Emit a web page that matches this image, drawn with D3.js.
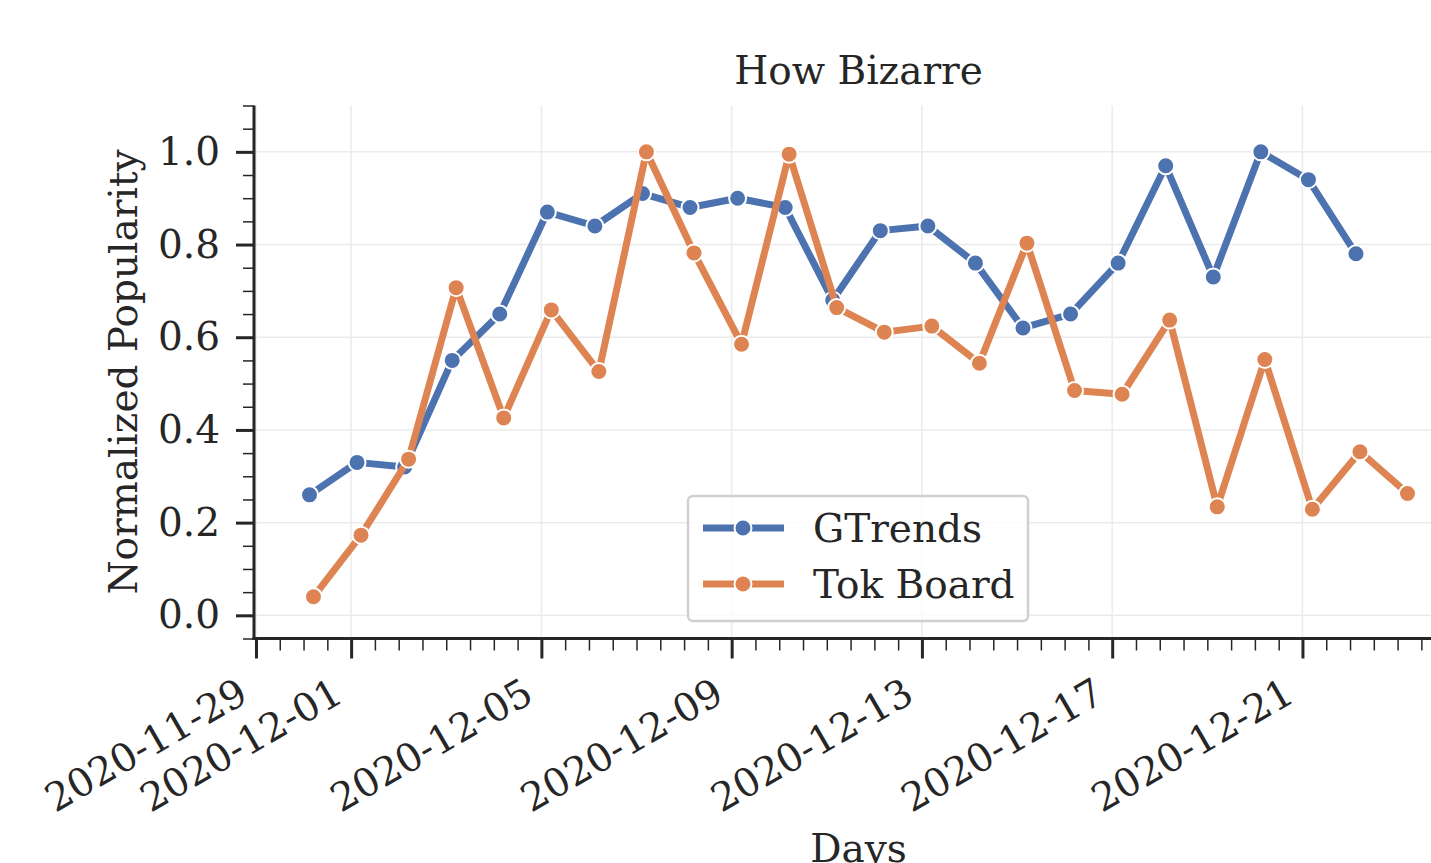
<!DOCTYPE html>
<html>
<head>
<meta charset="utf-8">
<script src="https://cdn.jsdelivr.net/npm/d3@7"></script>
<style>
    body { margin: 0; background: #fff; }
    svg { display: block; font-family: "DejaVu Serif", serif; }
</style>
</head>
<body>
<div id="graphContainer"></div>
<script>
"use strict";
(function () {
    // data
    const gtDates = ["2020-11-30", "2020-12-01", "2020-12-02", "2020-12-03", "2020-12-04", "2020-12-05",
        "2020-12-06", "2020-12-07", "2020-12-08", "2020-12-09", "2020-12-10", "2020-12-11", "2020-12-12",
        "2020-12-13", "2020-12-14", "2020-12-15", "2020-12-16", "2020-12-17", "2020-12-18", "2020-12-19",
        "2020-12-20", "2020-12-21", "2020-12-22"].map(d => d + "T03:00Z")
    const gtValues = [0.26, 0.33, 0.32, 0.55, 0.65, 0.87, 0.84, 0.91, 0.88, 0.90, 0.88, 0.68, 0.83,
        0.84, 0.76, 0.62, 0.65, 0.76, 0.97, 0.73, 1.00, 0.94, 0.78]

    const tokDates = ["2020-11-30", "2020-12-01", "2020-12-02", "2020-12-03", "2020-12-04", "2020-12-05",
        "2020-12-06", "2020-12-07", "2020-12-08", "2020-12-09", "2020-12-10", "2020-12-11", "2020-12-12",
        "2020-12-13", "2020-12-14", "2020-12-15", "2020-12-16", "2020-12-17", "2020-12-18", "2020-12-19",
        "2020-12-20", "2020-12-21", "2020-12-22", "2020-12-23"].map(d => d + "T05:00Z")
    const tokValues = [0.04, 0.173, 0.337, 0.707, 0.426, 0.659, 0.526, 1.0, 0.782, 0.585, 0.995, 0.664,
        0.611, 0.624, 0.544, 0.803, 0.485, 0.477, 0.637, 0.234, 0.552, 0.229, 0.353, 0.263]

    const seriesNames = ["GTrends", "Tok Board"]
    const xTickLabels = ["2020-11-29", "2020-12-01", "2020-12-05", "2020-12-09", "2020-12-13", "2020-12-17", "2020-12-21"]
    const yTickValues = [0.0, 0.2, 0.4, 0.6, 0.8, 1.0]

    const colors = { "GTrends": "#4c72b0", "Tok Board": "#dd8452" }

    const measurements = {
        width: 1431,
        height: 863,
        left: 254,
        right: 1463,
        top: 105.5,
        bottom: 638.5
    }
    const fontSize = 39

    const svg = d3.select('#graphContainer').append("svg")
        .attr('width', measurements.width)
        .attr('height', measurements.height)

    const parse = d3.isoParse
    const series = [
        { name: seriesNames[0], points: gtDates.map((d, i) => ({ date: parse(d), value: gtValues[i] })) },
        { name: seriesNames[1], points: tokDates.map((d, i) => ({ date: parse(d), value: tokValues[i] })) }
    ]

    const scaleX = d3.scaleUtc()
        .domain([parse("2020-11-28T23:00Z"), parse("2020-12-24T09:00Z")])
        .range([measurements.left, measurements.right])
    const scaleY = d3.scaleLinear()
        .domain([-0.05, 1.1])
        .range([measurements.bottom, measurements.top])

    const majorX = xTickLabels.map(d => parse(d + "T00:00Z"))
    const minorX = d3.utcHour.every(12).range(scaleX.domain()[0], scaleX.domain()[1])
        .filter(d => !majorX.some(m => +m === +d))
    const minorY = d3.range(-0.05, 1.1001, 0.05).map(v => +v.toFixed(2))
        .filter(v => !yTickValues.some(t => Math.abs(t - v) < 1e-6))

    // grid
    const grid = svg.append('g').attr('stroke', '#ebebeb').attr('stroke-width', 1.5)
    grid.selectAll('.gx').data(majorX).enter().append('line')
        .attr('x1', d => scaleX(d)).attr('x2', d => scaleX(d))
        .attr('y1', measurements.top).attr('y2', measurements.bottom)
    grid.selectAll('.gy').data(yTickValues).enter().append('line')
        .attr('x1', measurements.left).attr('x2', measurements.right)
        .attr('y1', d => scaleY(d)).attr('y2', d => scaleY(d))

    // axes
    const xMajor = d3.axisBottom(scaleX).tickValues(majorX).tickSize(20).tickFormat("")
    const xMinor = d3.axisBottom(scaleX).tickValues(minorX).tickSize(12).tickFormat("")
    const yMajor = d3.axisLeft(scaleY).tickValues(yTickValues).tickSize(18).tickPadding(16)
        .tickFormat(d3.format(".1f"))
    const yMinor = d3.axisLeft(scaleY).tickValues(minorY).tickSize(11).tickFormat("")

    function styleAxis(g, w) {
        g.select('.domain').remove()
        g.selectAll('line').attr('stroke', '#262626').attr('stroke-width', w)
    }

    svg.append('g').attr('transform', `translate(0,${measurements.bottom})`).call(xMinor).call(styleAxis, 1.5)
    svg.append('g').attr('transform', `translate(0,${measurements.bottom})`).call(xMajor).call(styleAxis, 3)
    svg.append('g').attr('transform', `translate(${measurements.left},0)`).call(yMinor).call(styleAxis, 1.5)
    const yAx = svg.append('g').attr('transform', `translate(${measurements.left},0)`).call(yMajor).call(styleAxis, 3)
    yAx.selectAll('text')
        .attr('font-family', '"DejaVu Serif", serif')
        .attr('font-size', fontSize)
        .attr('fill', '#262626')

    // spines
    svg.append('line')
        .attr('x1', measurements.left).attr('x2', measurements.left)
        .attr('y1', measurements.top).attr('y2', measurements.bottom + 1.5)
        .attr('stroke', '#262626').attr('stroke-width', 3)
    svg.append('line')
        .attr('x1', measurements.left - 1.5).attr('x2', measurements.right)
        .attr('y1', measurements.bottom).attr('y2', measurements.bottom)
        .attr('stroke', '#262626').attr('stroke-width', 3)

    // rotated date labels
    svg.append('g').selectAll('text')
        .data(majorX)
        .enter()
        .append('text')
        .attr('transform', d => `translate(${scaleX(d) - 6},${measurements.bottom + 62}) rotate(-30)`)
        .attr('text-anchor', 'end')
        .attr('font-size', fontSize)
        .attr('fill', '#262626')
        .text((d, i) => xTickLabels[i])

    // lines + markers
    const line = d3.line().x(d => scaleX(d.date)).y(d => scaleY(d.value))
    series.forEach(s => {
        svg.append('path')
            .datum(s.points)
            .attr('d', line)
            .attr('fill', 'none')
            .attr('stroke', colors[s.name])
            .attr('stroke-width', 7)
            .attr('stroke-linejoin', 'round')
            .attr('stroke-linecap', 'round')
        svg.append('g').selectAll('circle')
            .data(s.points)
            .enter()
            .append('circle')
            .attr('cx', d => scaleX(d.date))
            .attr('cy', d => scaleY(d.value))
            .attr('r', 8.5)
            .attr('fill', colors[s.name])
            .attr('stroke', '#fff')
            .attr('stroke-width', 2)
    })

    // title and axis labels
    svg.append('text')
        .attr('x', (measurements.left + measurements.right) / 2)
        .attr('y', 84)
        .attr('text-anchor', 'middle')
        .attr('font-size', fontSize)
        .attr('fill', '#262626')
        .text("How Bizarre")
    svg.append('text')
        .attr('x', (measurements.left + measurements.right) / 2)
        .attr('y', 862)
        .attr('text-anchor', 'middle')
        .attr('font-size', fontSize)
        .attr('fill', '#262626')
        .text("Days")
    svg.append('text')
        .attr('transform', `translate(137,${(measurements.top + measurements.bottom) / 2}) rotate(-90)`)
        .attr('text-anchor', 'middle')
        .attr('font-size', fontSize)
        .attr('fill', '#262626')
        .text("Normalized Popularity")

    // legend
    const legend = svg.append('g').attr('transform', 'translate(688,496)')
    legend.append('rect')
        .attr('width', 340).attr('height', 125)
        .attr('rx', 5)
        .attr('fill', 'rgba(255,255,255,0.8)')
        .attr('stroke', '#d0d0d0')
        .attr('stroke-width', 2.5)
    seriesNames.forEach((name, i) => {
        const y = 32 + i * 56
        legend.append('line')
            .attr('x1', 15).attr('x2', 96)
            .attr('y1', y).attr('y2', y)
            .attr('stroke', colors[name]).attr('stroke-width', 7)
        legend.append('circle')
            .attr('cx', 55).attr('cy', y).attr('r', 8.5)
            .attr('fill', colors[name]).attr('stroke', '#fff').attr('stroke-width', 2)
        legend.append('text')
            .attr('x', 125).attr('y', y + 14)
            .attr('font-size', fontSize)
            .attr('fill', '#262626')
            .text(name)
    })
})()
</script>
</body>
</html>
